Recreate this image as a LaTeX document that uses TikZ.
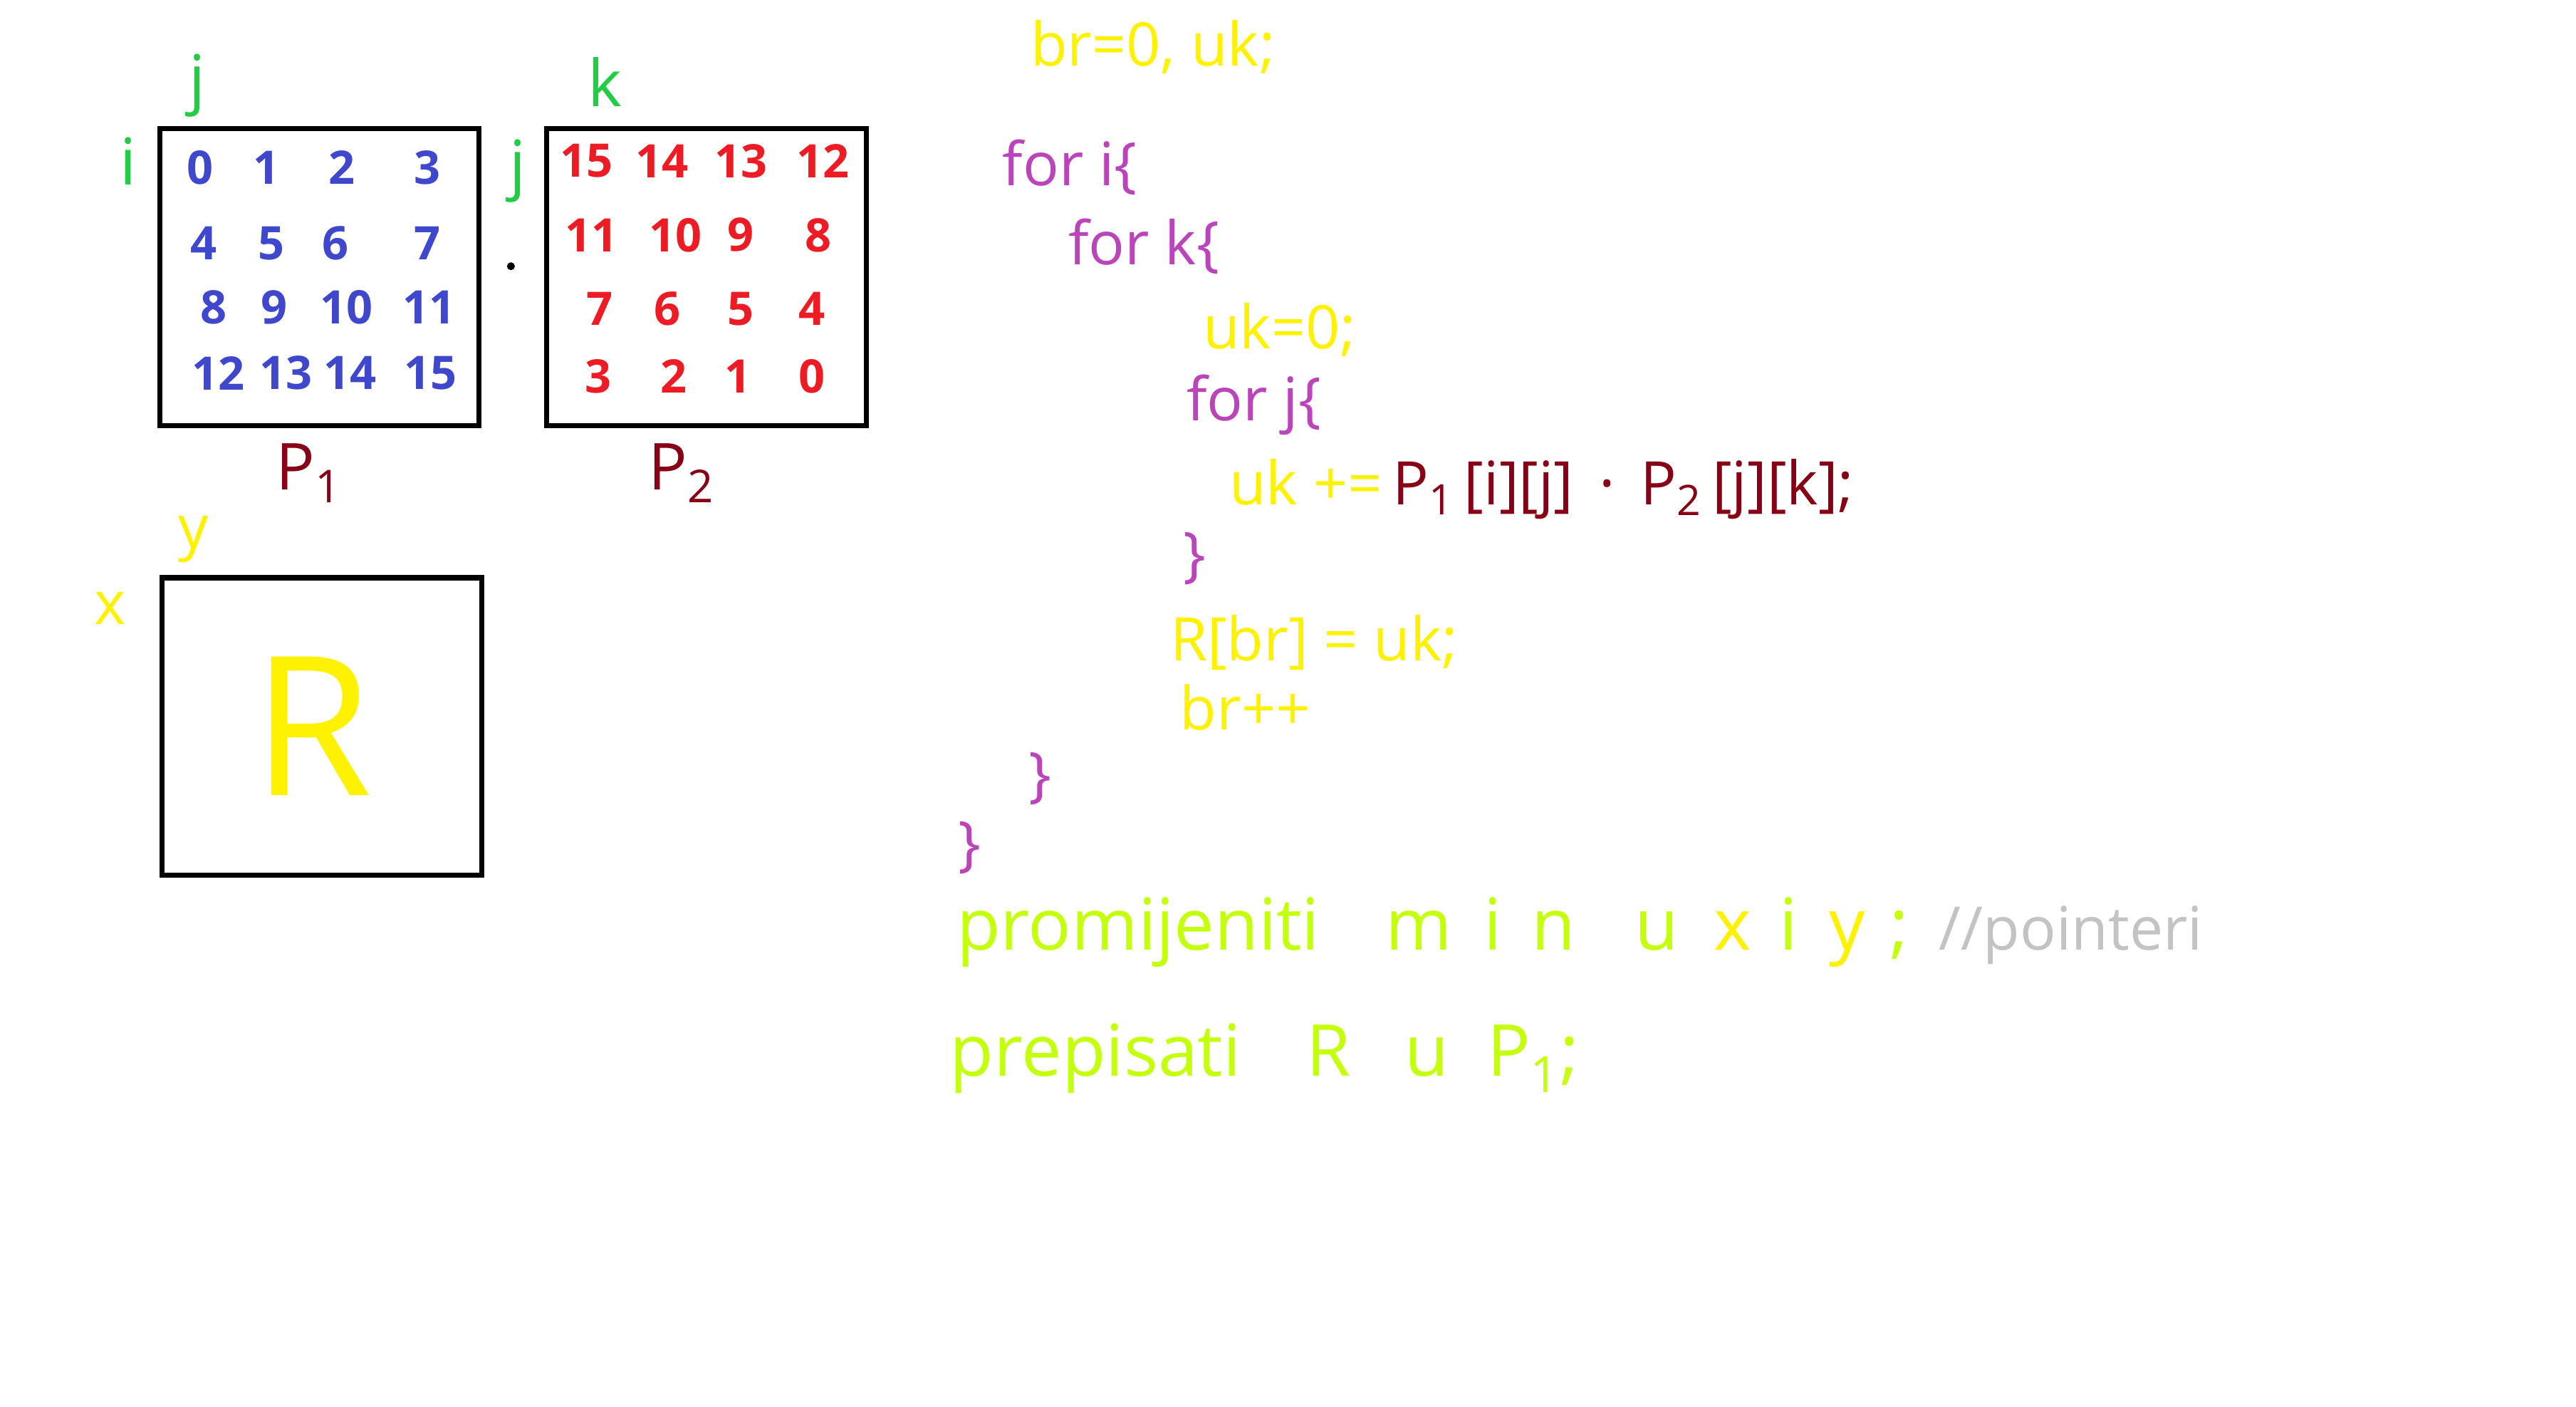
\documentclass[tikz,border=0pt]{standalone}
\usepackage{fontspec}
\setmainfont{Open Sans}
\usetikzlibrary{positioning}
\definecolor{zuta}{HTML}{FFF200}
\definecolor{ljub}{HTML}{BB44BB}
\definecolor{bordo}{HTML}{880015}
\definecolor{zel}{HTML}{22CC44}
\definecolor{plava}{HTML}{3F48CC}
\definecolor{crv}{HTML}{ED1C24}
\definecolor{limeta}{HTML}{C4FF0E}
\definecolor{siva}{HTML}{C3C3C3}

\tikzset{
  matr/.style={draw=black,line width=2.2pt,minimum width=48.6mm,minimum height=45.2mm,inner sep=0pt},
  broj/.style={font=\fontsize{20}{20}\selectfont\bfseries},
  oznaka/.style={zel,font=\fontsize{28}{28}\selectfont},
  kod/.style={anchor=base west,inner sep=0pt,font=\fontsize{26}{26}\selectfont},
  kraj/.style={anchor=base west,inner sep=0pt,limeta,font=\fontsize{31}{31}\selectfont}
}

\begin{document}
\begin{tikzpicture}[x=0.25mm,y=-0.25mm]
  \useasboundingbox (0,0) rectangle (1568,856);
  % matrice
  \node[matr] (p1) at (194.5,168.5) {};
  \node[matr] (p2) at (430,168.5) {};
  \node[matr] (rez) at (196,442) {};
  \foreach \n/\x/\y in {0/122/102, 1/162/102, 2/208/102, 3/260/102,
                        4/124/148, 5/165/148, 6/204/148, 7/260/148,
                        8/130/187, 9/167/187, 10/211/187, 11/261/187,
                        12/133/227, 13/174/227, 14/213/227, 15/262/227}
    \node[broj,plava] (a\n) at (\x,\y) {\n};
  \foreach \n/\x/\y in {15/357/98, 14/403/98, 13/451/98, 12/501/98,
                        11/360/143, 10/411/143, 9/451/143, 8/498/143,
                        7/365/188, 6/406/188, 5/451/188, 4/494/188,
                        3/364/229, 2/410/229, 1/449/229, 0/494/229}
    \node[broj,crv] (b\n) at (\x,\y) {\n};
  % indeksi
  \node[oznaka] (ja) at (120,52) {j};
  \node[oznaka] (ia) at (78,98) {i};
  \node[oznaka] (jb) at (315,104) {j};
  \node[oznaka] (kb) at (368,50) {k};
  \node[circle,fill=black,inner sep=0pt,minimum size=1.2mm] (puta) at (311,162) {};
  \node[bordo,font=\fontsize{28}{28}\selectfont] (n1) at (188,288) {P\textsubscript{1}};
  \node[bordo,font=\fontsize{28}{28}\selectfont] (n2) at (415,288) {P\textsubscript{2}};
  \node[zuta,font=\fontsize{26}{26}\selectfont] (yr) at (118,328) {y};
  \node[zuta,font=\fontsize{26}{26}\selectfont] (xr) at (67,370) {x};
  \node[zuta,font=\fontsize{84}{84}\selectfont] (rr) at (190,442) {R};
  % kod
  \node[kod,zuta] (c0) at (627,40) {br=0, uk;};
  \node[kod,ljub] (c1) at (610,113) {for i\{};
  \node[kod,ljub] (c2) at (650,161) {for k\{};
  \node[kod,zuta] (c3) at (732,212) {uk=0;};
  \node[kod,ljub] (c4) at (722,256) {for j\{};
  \node[kod,zuta] (c5) at (748,307) {uk +=};
  \node[kod,bordo] (c6) at (c5.base east) {\,P\textsubscript{1}\,[i][j]\, · \,P\textsubscript{2}\,[j][k];};
  \node[kod,ljub] (c7) at (720,350) {\}};
  \node[kod,zuta] (c8) at (712,402) {R[br] = uk;};
  \node[kod,zuta] (c9) at (718,444) {br++};
  \node[kod,ljub] (c10) at (626,484) {\}};
  \node[kod,ljub] (c11) at (583,526) {\}};
  % zadnje linije
  \node[kraj] (d0) at (582,578) {promijeniti};
  \foreach \s/\x/\c in {m/843/limeta, i/903/limeta, n/932/limeta, u/995/limeta,
                        x/1043/zuta, i/1083/limeta, y/1113/zuta}
    \node[kraj,\c] (d\x) at (\x,578) {\s};
  \node[kraj] (dsc) at (1150,578) {;};
  \node[kod,siva] (kom) at (1180,578) {//pointeri};
  \node[kraj] (e0) at (578,655) {prepisati};
  \node[kraj] (e1) at (795,655) {R};
  \node[kraj] (e2) at (855,655) {u};
  \node[kraj] (e3) at (905,655) {P\textsubscript{1};};
\end{tikzpicture}
\end{document}
